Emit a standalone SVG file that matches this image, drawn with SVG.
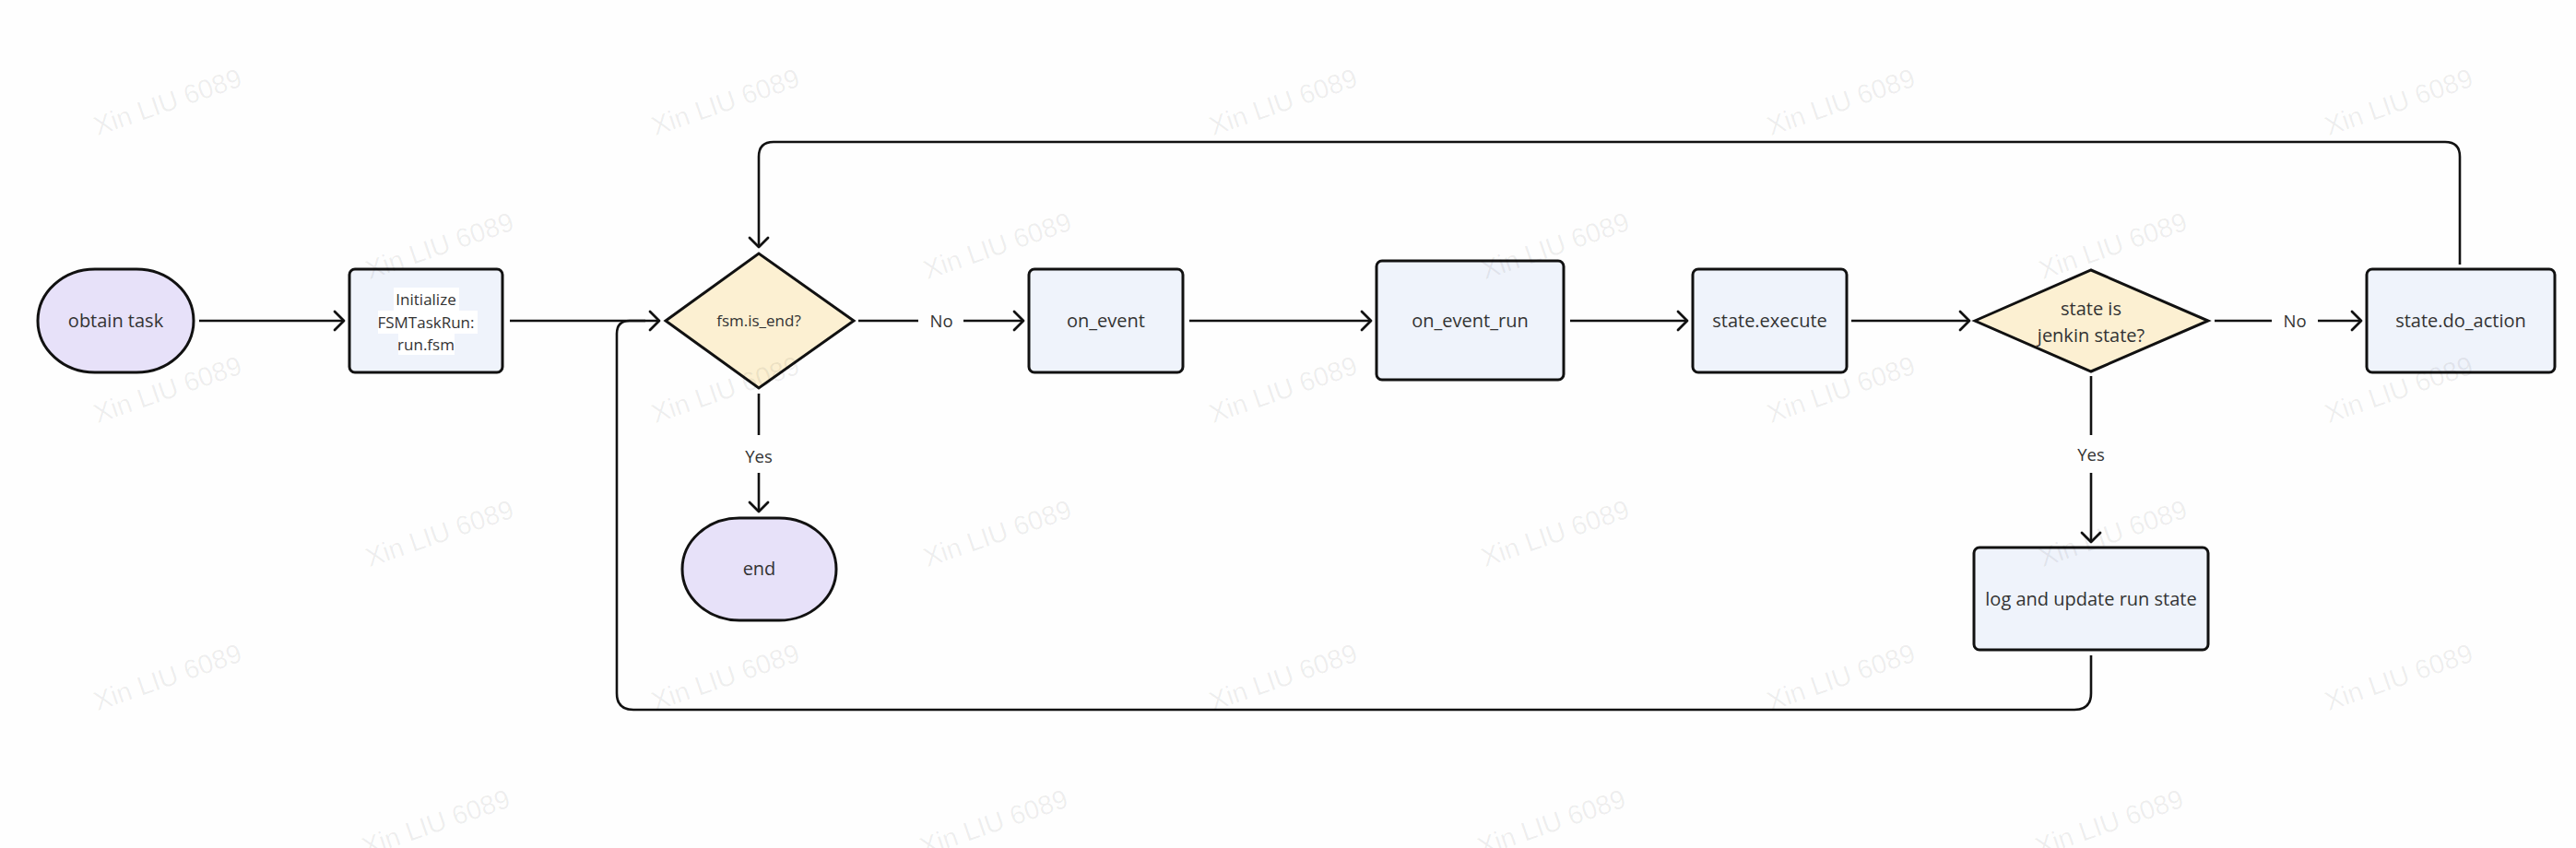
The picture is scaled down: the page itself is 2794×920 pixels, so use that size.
<svg xmlns="http://www.w3.org/2000/svg" width="2794" height="920" viewBox="0 0 2794 920">
<style>
.term{fill:#e7e1f9;stroke:#111;stroke-width:3}
.box{fill:#eff3fb;stroke:#111;stroke-width:3}
.dec{fill:#fcf0d2;stroke:#111;stroke-width:3}
.t{font-family:"Open Sans","Noto Sans",sans-serif;font-size:20px;fill:#333;text-anchor:middle}
.ts{font-size:17px}
.lbl{font-family:"Open Sans","Noto Sans",sans-serif;font-size:18.5px;fill:#333;text-anchor:middle}
.c{fill:none;stroke:#111;stroke-width:2.6;stroke-linejoin:round}
.wm{font-family:"Liberation Sans",Arial,sans-serif;font-size:29px;fill:#000;fill-opacity:0.065;text-anchor:middle}
</style>
<defs>
<marker id="arr" markerUnits="userSpaceOnUse" markerWidth="24" markerHeight="24" viewBox="-12 -12 24 24" refX="0" refY="0" orient="auto">
<path d="M-10,-10 L0,0 L-10,10" fill="none" stroke="#111" stroke-width="2.8" stroke-linecap="round" stroke-linejoin="round"/>
</marker>
</defs>
<rect width="2794" height="920" fill="#fefefe"/>

<g id="connectors">
<path class="c" d="M216,348 H373" marker-end="url(#arr)"/>
<path class="c" d="M553,348 H715" marker-end="url(#arr)"/>
<path class="c" d="M931,348 H996"/>
<path class="c" d="M1045,348 H1110" marker-end="url(#arr)"/>
<text class="lbl" x="1021" y="355">No</text>
<path class="c" d="M1290,348 H1487" marker-end="url(#arr)"/>
<path class="c" d="M1703,348 H1830" marker-end="url(#arr)"/>
<path class="c" d="M2008,348 H2136" marker-end="url(#arr)"/>
<path class="c" d="M2402,348 H2464"/>
<path class="c" d="M2514,348 H2561" marker-end="url(#arr)"/>
<text class="lbl" x="2489" y="355">No</text>
<path class="c" d="M2268,408 V472"/>
<path class="c" d="M2268,513 V588" marker-end="url(#arr)"/>
<text class="lbl" x="2268" y="500">Yes</text>
<path class="c" d="M823,427 V472"/>
<path class="c" d="M823,513 V555" marker-end="url(#arr)"/>
<text class="lbl" x="823" y="502">Yes</text>
<path class="c" d="M2668,287 V170 Q2668,154 2652,154 H839 Q823,154 823,170 V268" marker-end="url(#arr)"/>
<path class="c" d="M2268,711 V752 Q2268,770 2250,770 H687 Q669,770 669,752 V362 Q669,348 683,348 H700"/>
</g>

<g id="obtain-task">
<rect class="term" x="41" y="292" width="169" height="112" rx="62" ry="56"/>
<text class="t" x="125.5" y="355">obtain task</text>
</g>

<g id="initialize">
<rect class="box" x="379" y="292" width="166" height="112" rx="6"/>
<rect x="427" y="312" width="71" height="25" fill="#fff"/>
<rect x="410" y="337" width="108" height="25" fill="#fff"/>
<rect x="432" y="362" width="61" height="23" fill="#fff"/>
<text class="t ts" x="462" y="331">Initialize</text>
<text class="t ts" x="462" y="356">FSMTaskRun:</text>
<text class="t ts" x="462" y="380">run.fsm</text>
</g>

<g id="fsm-is-end">
<polygon class="dec" points="722,348 823,275 926,348 823,421"/>
<text class="t ts" x="823" y="354">fsm.is_end?</text>
</g>

<g id="end">
<rect class="term" x="740" y="562" width="167" height="111" rx="62" ry="55.5"/>
<text class="t" x="823.5" y="624">end</text>
</g>

<g id="on-event">
<rect class="box" x="1116" y="292" width="167" height="112" rx="6"/>
<text class="t" x="1199.5" y="355">on_event</text>
</g>

<g id="on-event-run">
<rect class="box" x="1493" y="283" width="203" height="129" rx="6"/>
<text class="t" x="1594.5" y="355">on_event_run</text>
</g>

<g id="state-execute">
<rect class="box" x="1836" y="292" width="167" height="112" rx="6"/>
<text class="t" x="1919.5" y="355">state.execute</text>
</g>

<g id="jenkin-state">
<polygon class="dec" points="2142,348 2268,293 2395,348 2268,403"/>
<text class="t" x="2268" y="342">state is</text>
<text class="t" x="2268" y="371">jenkin state?</text>
</g>

<g id="state-do-action">
<rect class="box" x="2567" y="292" width="204" height="112" rx="6"/>
<text class="t" x="2669" y="355">state.do_action</text>
</g>

<g id="log-update">
<rect class="box" x="2141" y="594" width="254" height="111" rx="6"/>
<text class="t" x="2268" y="657">log and update run state</text>
</g>

<g id="watermarks">
<text class="wm" transform="translate(185,120) rotate(-19)">Xin LIU 6089</text>
<text class="wm" transform="translate(790,120) rotate(-19)">Xin LIU 6089</text>
<text class="wm" transform="translate(1395,120) rotate(-19)">Xin LIU 6089</text>
<text class="wm" transform="translate(2000,120) rotate(-19)">Xin LIU 6089</text>
<text class="wm" transform="translate(2605,120) rotate(-19)">Xin LIU 6089</text>
<text class="wm" transform="translate(480,276) rotate(-19)">Xin LIU 6089</text>
<text class="wm" transform="translate(1085,276) rotate(-19)">Xin LIU 6089</text>
<text class="wm" transform="translate(1690,276) rotate(-19)">Xin LIU 6089</text>
<text class="wm" transform="translate(2295,276) rotate(-19)">Xin LIU 6089</text>
<text class="wm" transform="translate(185,432) rotate(-19)">Xin LIU 6089</text>
<text class="wm" transform="translate(790,432) rotate(-19)">Xin LIU 6089</text>
<text class="wm" transform="translate(1395,432) rotate(-19)">Xin LIU 6089</text>
<text class="wm" transform="translate(2000,432) rotate(-19)">Xin LIU 6089</text>
<text class="wm" transform="translate(2605,432) rotate(-19)">Xin LIU 6089</text>
<text class="wm" transform="translate(480,588) rotate(-19)">Xin LIU 6089</text>
<text class="wm" transform="translate(1085,588) rotate(-19)">Xin LIU 6089</text>
<text class="wm" transform="translate(1690,588) rotate(-19)">Xin LIU 6089</text>
<text class="wm" transform="translate(2295,588) rotate(-19)">Xin LIU 6089</text>
<text class="wm" transform="translate(185,744) rotate(-19)">Xin LIU 6089</text>
<text class="wm" transform="translate(790,744) rotate(-19)">Xin LIU 6089</text>
<text class="wm" transform="translate(1395,744) rotate(-19)">Xin LIU 6089</text>
<text class="wm" transform="translate(2000,744) rotate(-19)">Xin LIU 6089</text>
<text class="wm" transform="translate(2605,744) rotate(-19)">Xin LIU 6089</text>
<text class="wm" transform="translate(476,902) rotate(-19)">Xin LIU 6089</text>
<text class="wm" transform="translate(1081,902) rotate(-19)">Xin LIU 6089</text>
<text class="wm" transform="translate(1686,902) rotate(-19)">Xin LIU 6089</text>
<text class="wm" transform="translate(2291,902) rotate(-19)">Xin LIU 6089</text>
</g>
</svg>
